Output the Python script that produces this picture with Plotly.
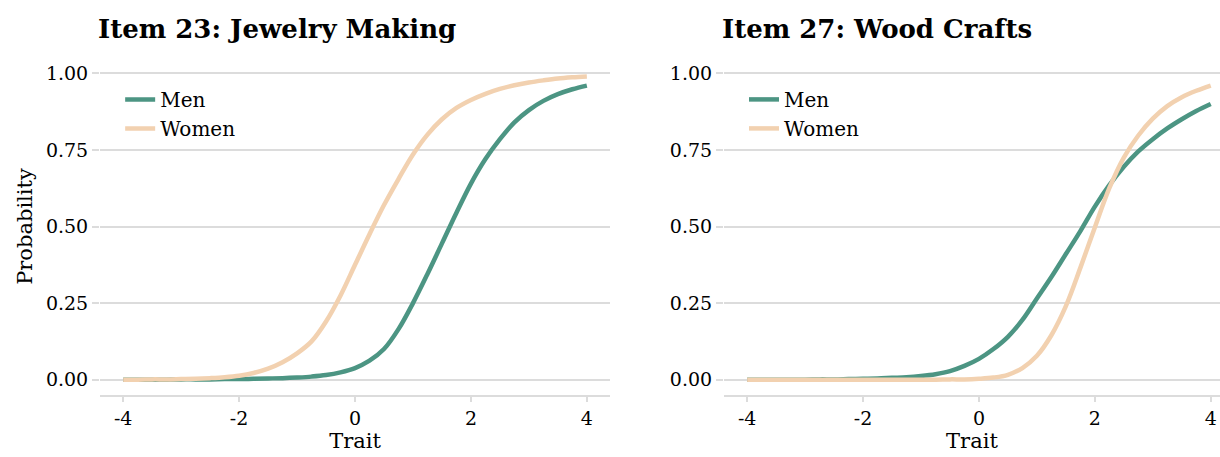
import plotly.graph_objects as go

# Trait grid shared by every curve
trait = [-4.0, -3.75, -3.5, -3.25, -3.0, -2.75, -2.5, -2.25, -2.0, -1.75, -1.5, -1.25, -1.0,
         -0.75, -0.5, -0.25, 0.0, 0.25, 0.5, 0.75, 1.0, 1.25, 1.5, 1.75, 2.0, 2.25, 2.5,
         2.75, 3.0, 3.25, 3.5, 3.75, 4.0]

# Item 23: Jewelry Making
jewelry_men = [0.000, 0.000, 0.000, 0.000, 0.001, 0.001, 0.001, 0.002, 0.002, 0.003, 0.004, 0.005, 0.007,
               0.010, 0.015, 0.024, 0.038, 0.062, 0.100, 0.165, 0.250, 0.345, 0.445, 0.545, 0.640, 0.720, 0.785,
               0.840, 0.880, 0.910, 0.932, 0.948, 0.960]
jewelry_women = [0.000, 0.000, 0.001, 0.001, 0.002, 0.003, 0.005, 0.008, 0.013, 0.022, 0.036, 0.057, 0.086,
                 0.125, 0.190, 0.275, 0.375, 0.475, 0.570, 0.655, 0.735, 0.800, 0.850, 0.887, 0.913, 0.933, 0.949,
                 0.961, 0.970, 0.977, 0.983, 0.987, 0.990]

# Item 27: Wood Crafts
wood_men = [0.000, 0.000, 0.000, 0.000, 0.000, 0.001, 0.001, 0.002, 0.003, 0.004, 0.006, 0.008, 0.012,
            0.018, 0.028, 0.045, 0.068, 0.100, 0.140, 0.195, 0.265, 0.335, 0.410, 0.485, 0.565, 0.635, 0.695,
            0.745, 0.785, 0.820, 0.850, 0.877, 0.900]
wood_women = [0.000, 0.000, 0.000, 0.000, 0.000, 0.000, 0.000, 0.000, 0.000, 0.000, 0.000, 0.000, 0.000,
              0.000, 0.001, 0.001, 0.003, 0.007, 0.016, 0.038, 0.078, 0.145, 0.240, 0.365, 0.497, 0.625, 0.725,
              0.797, 0.852, 0.893, 0.922, 0.943, 0.960]

panel_titles = ["Item 23: Jewelry Making", "Item 27: Wood Crafts"]
group_names = ["Men", "Women"]
x_ticks = [-4, -2, 0, 2, 4]
y_ticks = [0.0, 0.25, 0.50, 0.75, 1.00]

MEN_COLOR = "#4c9583"
WOMEN_COLOR = "#f2d1b0"
GRID = "#dcdcdc"
FONT = "DejaVu Serif"

fig = go.Figure()

panels = [
    ("x", "y", "legend", jewelry_men, jewelry_women),
    ("x2", "y2", "legend2", wood_men, wood_women),
]
for xa, ya, leg, men, women in panels:
    for name, vals, color in [(group_names[0], men, MEN_COLOR), (group_names[1], women, WOMEN_COLOR)]:
        fig.add_trace(go.Scatter(
            x=trait, y=vals, name=name, mode="lines",
            line=dict(color=color, width=4.5, shape="spline", smoothing=1.0),
            xaxis=xa, yaxis=ya, legend=leg, showlegend=True,
        ))

xcommon = dict(
    tickvals=x_ticks, ticktext=[str(v) for v in x_ticks],
    showgrid=False, zeroline=False,
    showline=True, linecolor=GRID, linewidth=1.5,
    ticks="outside", ticklen=5, tickcolor=GRID, tickwidth=1.5,
    tickfont=dict(family=FONT, size=19, color="black"),
    title=dict(text="Trait", font=dict(family=FONT, size=21, color="black"), standoff=6),
)
ycommon = dict(
    range=[-0.05, 1.05], tickvals=y_ticks, tickformat=".2f",
    showgrid=True, gridcolor=GRID, gridwidth=1.5, zeroline=False,
    showline=False, ticks="outside", ticklen=7, tickcolor=GRID, tickwidth=1.5,
    tickfont=dict(family=FONT, size=19, color="black"),
)

legcommon = dict(
    bgcolor="rgba(0,0,0,0)", font=dict(family=FONT, size=20, color="black"),
    yanchor="top", xanchor="left", tracegroupgap=0,
)

fig.update_layout(
    width=1220, height=457,
    margin=dict(l=100, r=0, t=58, b=62),
    paper_bgcolor="white", plot_bgcolor="white",
    font=dict(family=FONT, color="black"),
    xaxis=dict(domain=[0, 0.4554], range=[-4.4, 4.4], anchor="y", **xcommon),
    xaxis2=dict(domain=[0.5571, 1.0], range=[-4.4, 4.16], anchor="y2", **xcommon),
    yaxis=dict(domain=[0, 1], anchor="x",
               title=dict(text="Probability", font=dict(family=FONT, size=21, color="black"), standoff=7),
               **ycommon),
    yaxis2=dict(domain=[0, 1], anchor="x2", **ycommon),
    legend=dict(x=0.018, y=0.935, **legcommon),
    legend2=dict(x=0.575, y=0.935, **legcommon),
)

for xref, title in [("x domain", panel_titles[0]), ("x2 domain", panel_titles[1])]:
    fig.add_annotation(
        text=title, xref=xref, yref="paper", x=0, y=1, xanchor="left", yanchor="bottom",
        xshift=-4, yshift=12, showarrow=False,
        font=dict(family=FONT, size=26, color="black", weight="bold"),
    )

fig.write_html("out.html")
